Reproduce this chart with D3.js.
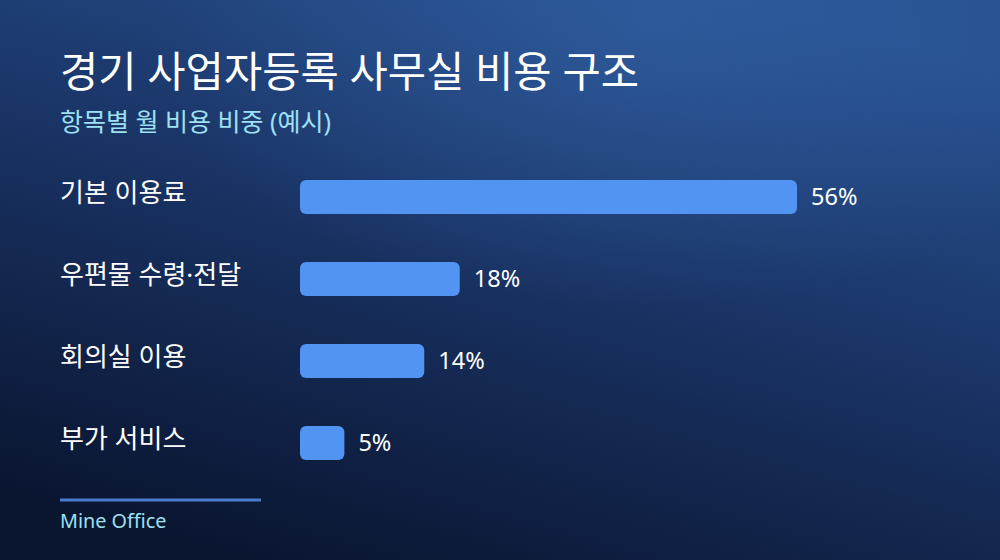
<!DOCTYPE html>
<html>
<head>
    <meta charset="utf-8">
    <title>경기 사업자등록 사무실 비용 구조</title>
    <style>
        html, body { margin: 0; padding: 0; background: #0d1a36; }
        svg { display: block; font-family: "Noto Sans", "Noto Sans CJK KR", sans-serif; }
        .label { fill: #ffffff; font-size: 26px; }
        .value { fill: #ffffff; font-size: 23.5px; }
    </style>
    <script src="https://d3js.org/d3.v7.min.js"></script>
</head>
<body>
    <div id="chart"></div>
    <script>
        const categories = ["기본 이용료", "우편물 수령·전달", "회의실 이용", "부가 서비스"];
        const values = [56, 18, 14, 5];
        const valueLabels = ["56%", "18%", "14%", "5%"];

        const width = 1000, height = 560;

        const svg = d3.select("#chart").append("svg")
            .attr("width", width)
            .attr("height", height);

        const defs = svg.append("defs");
        const bg = defs.append("linearGradient")
            .attr("id", "bg")
            .attr("x1", "75%").attr("y1", "0%")
            .attr("x2", "25%").attr("y2", "100%");
        bg.append("stop").attr("offset", "0%").attr("stop-color", "#27508f");
        bg.append("stop").attr("offset", "45%").attr("stop-color", "#1a3466");
        bg.append("stop").attr("offset", "100%").attr("stop-color", "#0a1530");

        const glow = defs.append("radialGradient")
            .attr("id", "glow")
            .attr("cx", "65%").attr("cy", "5%").attr("r", "50%");
        glow.append("stop").attr("offset", "0%").attr("stop-color", "#3566ab").attr("stop-opacity", 0.5);
        glow.append("stop").attr("offset", "100%").attr("stop-color", "#3566ab").attr("stop-opacity", 0);

        svg.append("rect").attr("width", width).attr("height", height).attr("fill", "url(#bg)");
        svg.append("rect").attr("width", width).attr("height", height).attr("fill", "url(#glow)");

        // title
        svg.append("text")
            .attr("x", 60).attr("y", 87)
            .attr("fill", "#ffffff")
            .attr("font-size", 41.6)
            .attr("font-weight", 400)
            .text("경기 사업자등록 사무실 비용 구조");

        svg.append("text")
            .attr("x", 60).attr("y", 131)
            .attr("fill", "#9fe0f2")
            .attr("font-size", 25)
            .text("항목별 월 비용 비중 (예시)");

        const x = d3.scaleLinear()
            .domain([0, d3.max(values)])
            .range([300, 797]);

        const y = d3.scaleBand()
            .domain(categories)
            .range([180, 460])
            .paddingInner(0.585)
            .paddingOuter(0);

        const rows = svg.selectAll(".row")
            .data(categories)
            .enter().append("g")
            .attr("class", "row");

        rows.append("text")
            .attr("class", "label")
            .attr("x", 60)
            .attr("y", d => y(d) + y.bandwidth() / 2 - 4)
            .attr("dy", "0.35em")
            .text(d => d);

        rows.append("rect")
            .attr("x", x(0))
            .attr("y", d => y(d))
            .attr("width", (d, i) => x(values[i]) - x(0))
            .attr("height", y.bandwidth())
            .attr("rx", 6)
            .attr("fill", "#5194f1");

        rows.append("text")
            .attr("class", "value")
            .attr("x", (d, i) => x(values[i]) + 14)
            .attr("y", d => y(d) + y.bandwidth() / 2)
            .attr("dy", "0.35em")
            .text((d, i) => valueLabels[i]);

        // footer
        svg.append("line")
            .attr("x1", 60).attr("x2", 261)
            .attr("y1", 500).attr("y2", 500)
            .attr("stroke", "#4a7ccc")
            .attr("stroke-width", 3);

        svg.append("text")
            .attr("x", 60).attr("y", 528)
            .attr("fill", "#9fe0f2")
            .attr("font-size", 19.8)
            .text("Mine Office");
    </script>
</body>
</html>
